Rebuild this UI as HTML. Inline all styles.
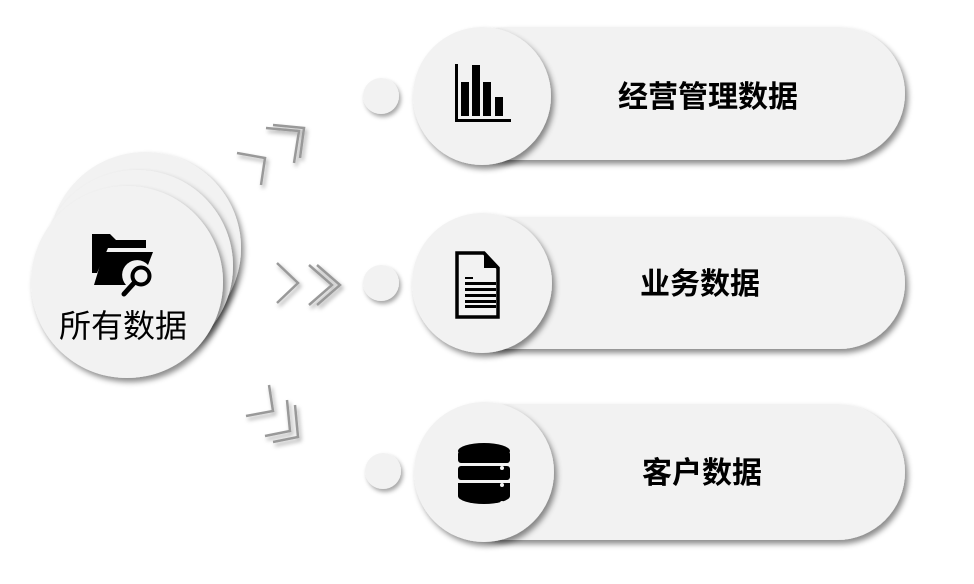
<!DOCTYPE html>
<html><head><meta charset="utf-8"><style>
html,body{margin:0;padding:0;background:#fff;}
svg{display:block}
</style></head><body>
<svg width="974" height="584" viewBox="0 0 974 584" xmlns="http://www.w3.org/2000/svg">
<defs>
<filter id="sh" x="-20%" y="-20%" width="150%" height="150%">
<feDropShadow dx="3" dy="4" stdDeviation="3" flood-color="#000" flood-opacity="0.45"/>
</filter>
<filter id="sh2" x="-50%" y="-50%" width="200%" height="200%">
<feDropShadow dx="2" dy="3" stdDeviation="2" flood-color="#000" flood-opacity="0.35"/>
</filter>
</defs>
<g font-family="Liberation Sans, Noto Sans CJK SC, sans-serif">
<circle cx="145" cy="248" r="96" fill="#f2f2f2" filter="url(#sh)"/>
<circle cx="137" cy="266" r="96" fill="#f2f2f2" filter="url(#sh)"/>
<circle cx="127" cy="282" r="96" fill="#f2f2f2" filter="url(#sh)"/>
<!-- folder icon -->
<path d="M92 234 h18 l6 6 h30 v8 h-38 l-11 25 h-5 z" fill="#000"/>
<path d="M104 252 h49 l-5 13 a14 14 0 0 0 -22 20 h-32 z" fill="#000"/>
<circle cx="141" cy="276" r="8.5" fill="none" stroke="#000" stroke-width="4"/>
<line x1="134" y1="283" x2="124" y2="294" stroke="#000" stroke-width="5" stroke-linecap="round"/>
<text x="123" y="337" font-size="32" text-anchor="middle" fill="#000">所有数据</text>
<g fill="none" stroke="#999" stroke-width="2.5" filter="url(#sh2)">
<polyline points="237,153 265,158 261,185"/>
<polyline points="266,128 299,131 294,163"/>
<polyline points="273,125 304,128 300,158"/>
<polyline points="277,263 298,283 277,303"/>
<polyline points="309,265 332,285 309,305"/>
<polyline points="317,265 340,285 317,305"/>
<polyline points="269,385 273,411 246,416"/>
<polyline points="287,400 290,431 265,436"/>
<polyline points="295,405 298,437 273,442"/>
</g>
<rect x="440" y="27" width="465" height="133" rx="66.5" fill="#f2f2f2" filter="url(#sh)"/>
<rect x="440" y="217" width="465" height="132" rx="66" fill="#f2f2f2" filter="url(#sh)"/>
<rect x="440" y="404" width="465" height="136" rx="68" fill="#f2f2f2" filter="url(#sh)"/>
<circle cx="381" cy="96" r="18" fill="#f2f2f2" filter="url(#sh2)"/>
<circle cx="381" cy="283" r="18" fill="#f2f2f2" filter="url(#sh2)"/>
<circle cx="383" cy="471" r="18" fill="#f2f2f2" filter="url(#sh2)"/>
<circle cx="482" cy="96" r="69" fill="#f2f2f2" filter="url(#sh)"/>
<circle cx="482" cy="283" r="70" fill="#f2f2f2" filter="url(#sh)"/>
<circle cx="484" cy="472" r="70" fill="#f2f2f2" filter="url(#sh)"/>
<g fill="#000">
<rect x="455" y="64" width="3" height="58"/>
<rect x="455" y="119" width="56" height="3"/>
<rect x="461" y="82" width="8" height="34"/>
<rect x="472" y="65" width="8" height="51"/>
<rect x="483" y="82" width="8" height="34"/>
<rect x="495" y="97" width="8" height="19"/>
</g>
<path d="M457 253 h27 l14 15 v49 h-41 z" fill="none" stroke="#000" stroke-width="3.5"/>
<path d="M484 253 v15 h14" fill="#000"/>
<g fill="#000"><rect x="465" y="277" width="8" height="2"/><rect x="465" y="282" width="31" height="3"/><rect x="465" y="288" width="31" height="3"/><rect x="465" y="294" width="31" height="3"/><rect x="465" y="300" width="31" height="3"/><rect x="465" y="305" width="31" height="3"/></g>
<g fill="#000">
<ellipse cx="484" cy="451" rx="26" ry="8"/>
<rect x="458" y="451" width="52" height="12" rx="3"/>
<rect x="458" y="466" width="52" height="14" rx="3"/>
<path d="M458 483 h52 v13 a26 8 0 0 1 -52 0 z"/>
</g>
<g fill="#f2f2f2"><circle cx="502" cy="468" r="2"/><circle cx="502" cy="485" r="2"/><circle cx="502" cy="503" r="2"/></g>
<g font-size="30" font-weight="bold" text-anchor="middle" fill="#000">
<text x="708" y="107">经营管理数据</text>
<text x="700" y="294">业务数据</text>
<text x="702" y="483">客户数据</text>
</g>
</g>
</svg>
</body></html>
